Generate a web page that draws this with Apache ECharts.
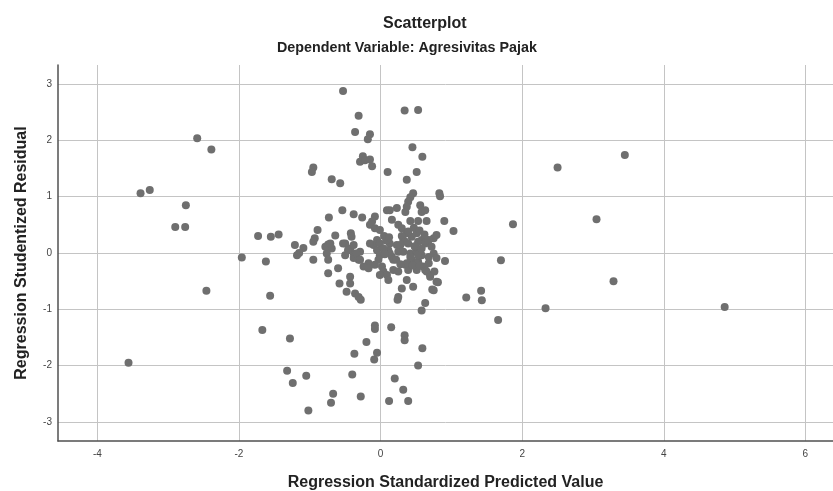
<!DOCTYPE html>
<html>
<head>
<meta charset="utf-8">
<script src="https://cdn.jsdelivr.net/npm/echarts@6/dist/echarts.min.js"></script>
<style>html,body{margin:0;padding:0;background:#fff}#c{width:833px;height:491px}</style>
</head>
<body>
<div id="c"></div>
<script>
// Regression Standardized Predicted Value (x) and Regression Studentized Residual (y)
const predicted = [
  -0.53,-0.31,-0.36,-0.15,-0.18,-0.25,-0.29,-0.22,-0.15,-0.12,-0.95,-0.97,-0.69,-0.57,0.10,0.34,0.53,0.45,0.59,0.51,0.37,0.46,0.42,0.83,0.84,0.39,0.37,0.35,
  -2.59,-2.39,-3.39,-3.26,-2.75,-2.90,-2.76,-2.46,-3.56,
  2.50,3.45,3.05,1.87,3.29,4.86,2.33,1.66,1.21,1.42,1.43,1.70,1.03,0.90,0.91,
  -0.54,-0.73,-0.38,-0.26,-0.08,-0.15,-0.08,-0.01,0.09,0.13,0.23,0.56,0.58,0.63,0.16,0.25,0.30,0.42,0.53,0.65,-0.12,
  -0.89,-0.93,-0.95,-0.64,-0.42,-0.41,-0.53,-0.74,-0.69,-0.76,-0.78,-0.71,
  -1.73,-1.55,-1.44,-1.96,-1.62,-1.21,-1.09,-1.15,-1.18,-0.95,-0.74,-1.56,
  -0.43,-0.38,-0.29,-0.31,-0.38,-0.17,-0.24,-0.10,-0.05,-0.01,-0.03,-0.08,0.02,0.04,0.09,-0.01,-0.50,-0.38,-0.05,-0.01,0.13,0.23,0.37,0.44,0.32,0.39,0.51,0.58,0.65,0.75,0.79,0.39,0.35,0.53,0.63,0.68,0.72,0.11,0.25,0.16,0.42,0.51,0.58,0.68,0.44,0.53,0.75,0.79,0.35,0.39,0.51,0.18,0.25,0.63,0.70,0.76,0.11,0.37,0.46,0.30,0.75,0.81,0.25,
  -0.50,-0.46,-0.34,-0.29,-0.17,0.13,0.18,0.04,-0.15,0.28,0.32,0.42,0.37,0.49,0.53,0.51,0.60,0.65,0.70,0.79,
  0.05,0.08,0.12,0.06,0.22,0.28,0.30,0.47,0.55,0.62,0.48,0.58,0.45,0.55,0.68,
  -0.74,-0.60,-0.43,-0.43,-0.58,-0.48,-0.36,-0.31,-0.28,0.24,0.73,0.63,0.58,
  -1.67,-1.28,-1.32,-1.24,-1.05,-1.02,-0.67,-0.70,-0.28,-0.40,-0.37,-0.20,-0.08,-0.08,-0.05,-0.09,0.15,0.34,0.34,0.53,0.20,0.32,0.12,0.39,0.59
];
const residual = [
  2.88,2.44,2.15,2.11,2.02,1.72,1.62,1.65,1.66,1.54,1.52,1.44,1.31,1.24,1.44,2.53,2.54,1.88,1.71,1.44,1.30,1.06,0.99,1.06,1.01,0.91,0.82,0.73,
  2.04,1.84,1.06,1.12,0.85,0.46,0.46,-0.67,-1.95,
  1.52,1.74,0.60,0.51,-0.50,-0.96,-0.98,-1.19,-0.79,-0.67,-0.84,-0.13,0.39,0.57,-0.14,
  0.76,0.63,0.69,0.63,0.65,0.50,0.44,0.41,0.76,0.76,0.80,0.85,0.73,0.76,0.59,0.50,0.44,0.57,0.57,0.57,0.56,
  0.41,0.26,0.20,0.31,0.35,0.29,0.17,0.15,0.08,-0.01,0.11,0.17,
  0.30,0.29,0.33,-0.08,-0.15,0.14,0.09,0.00,-0.04,-0.12,-0.12,-0.76,
  0.08,-0.01,0.02,-0.12,-0.09,-0.18,-0.24,0.14,0.05,-0.04,-0.12,-0.21,-0.24,-0.33,-0.39,-0.39,0.17,0.14,0.23,0.17,0.17,0.14,0.35,0.29,0.23,0.17,0.35,0.23,0.20,0.26,0.32,0.38,0.20,0.20,0.17,0.23,0.11,0.05,0.02,-0.07,-0.01,0.02,-0.04,-0.07,-0.12,-0.15,-0.01,-0.09,-0.21,-0.30,-0.30,-0.30,-0.33,-0.30,-0.39,-0.33,-0.48,-0.48,-0.60,-0.63,-0.66,-0.52,-0.78,
  -0.04,0.05,-0.01,-0.12,-0.27,-0.01,-0.12,0.08,0.17,0.14,0.02,-0.07,-0.18,0.11,-0.04,-0.18,-0.24,-0.33,-0.42,-0.51,
  0.30,0.22,0.28,-0.02,-0.12,-0.20,0.30,0.45,0.40,0.33,0.12,0.08,-0.22,-0.22,-0.18,
  -0.36,-0.27,-0.42,-0.54,-0.54,-0.69,-0.72,-0.78,-0.83,-0.83,-0.65,-0.89,-1.02,
  -1.37,-1.52,-2.09,-2.31,-2.18,-2.80,-2.50,-2.66,-2.55,-2.16,-1.79,-1.58,-1.29,-1.35,-1.77,-1.89,-1.32,-1.46,-1.55,-2.00,-2.23,-2.43,-2.63,-2.63,-1.69
];
const xTicks = [-4, -2, 0, 2, 4, 6];
const yTicks = [-3, -2, -1, 0, 1, 2, 3];
const titleText = 'Scatterplot';
const subtitleText = 'Dependent Variable: Agresivitas Pajak';
const xName = 'Regression Standardized Predicted Value';
const yName = 'Regression Studentized Residual';

const points = predicted.map((x, i) => [x, residual[i]]);
const font = '"Liberation Sans", Arial, sans-serif';
const chart = echarts.init(document.getElementById('c'), null, {renderer: 'canvas'});
chart.setOption({
  animation: false,
  backgroundColor: '#ffffff',
  title: [
    {text: titleText, left: 383, top: 16, padding: 0,
     textStyle: {fontFamily: font, fontSize: 16, fontWeight: 'bold', color: '#222'}},
    {text: subtitleText, left: 277, top: 41, padding: 0,
     textStyle: {fontFamily: font, fontSize: 14.3, fontWeight: 'bold', color: '#222'}}
  ],
  grid: {left: 58, right: 0, top: 65, bottom: 50, outerBoundsMode: 'none', containLabel: false},
  xAxis: {
    type: 'value', min: -4.556, max: 6.39,
    name: xName, nameLocation: 'middle', nameGap: 34,
    nameTextStyle: {fontFamily: font, fontSize: 16, fontWeight: 'bold', color: '#222'},
    axisLine: {show: true, onZero: false, lineStyle: {color: '#505050', width: 1.5}},
    axisTick: {show: false, customValues: xTicks},
    axisLabel: {customValues: xTicks, fontFamily: font, fontSize: 10, color: '#444', margin: 8},
    splitLine: {show: true, lineStyle: {color: '#c4c4c4', width: 1}}
  },
  yAxis: {
    type: 'value', min: -3.34, max: 3.34,
    name: yName, nameLocation: 'middle', nameGap: 28, nameRotate: 90,
    nameTextStyle: {fontFamily: font, fontSize: 16, fontWeight: 'bold', color: '#222'},
    axisLine: {show: true, onZero: false, lineStyle: {color: '#505050', width: 1.5}},
    axisTick: {show: false, customValues: yTicks},
    axisLabel: {customValues: yTicks, fontFamily: font, fontSize: 10, color: '#444', margin: 6},
    splitLine: {show: true, lineStyle: {color: '#c4c4c4', width: 1}}
  },
  series: [{
    type: 'scatter', data: points, symbolSize: 8,
    itemStyle: {color: '#6f6f6f', opacity: 1}
  }]
});
</script>
</body>
</html>
